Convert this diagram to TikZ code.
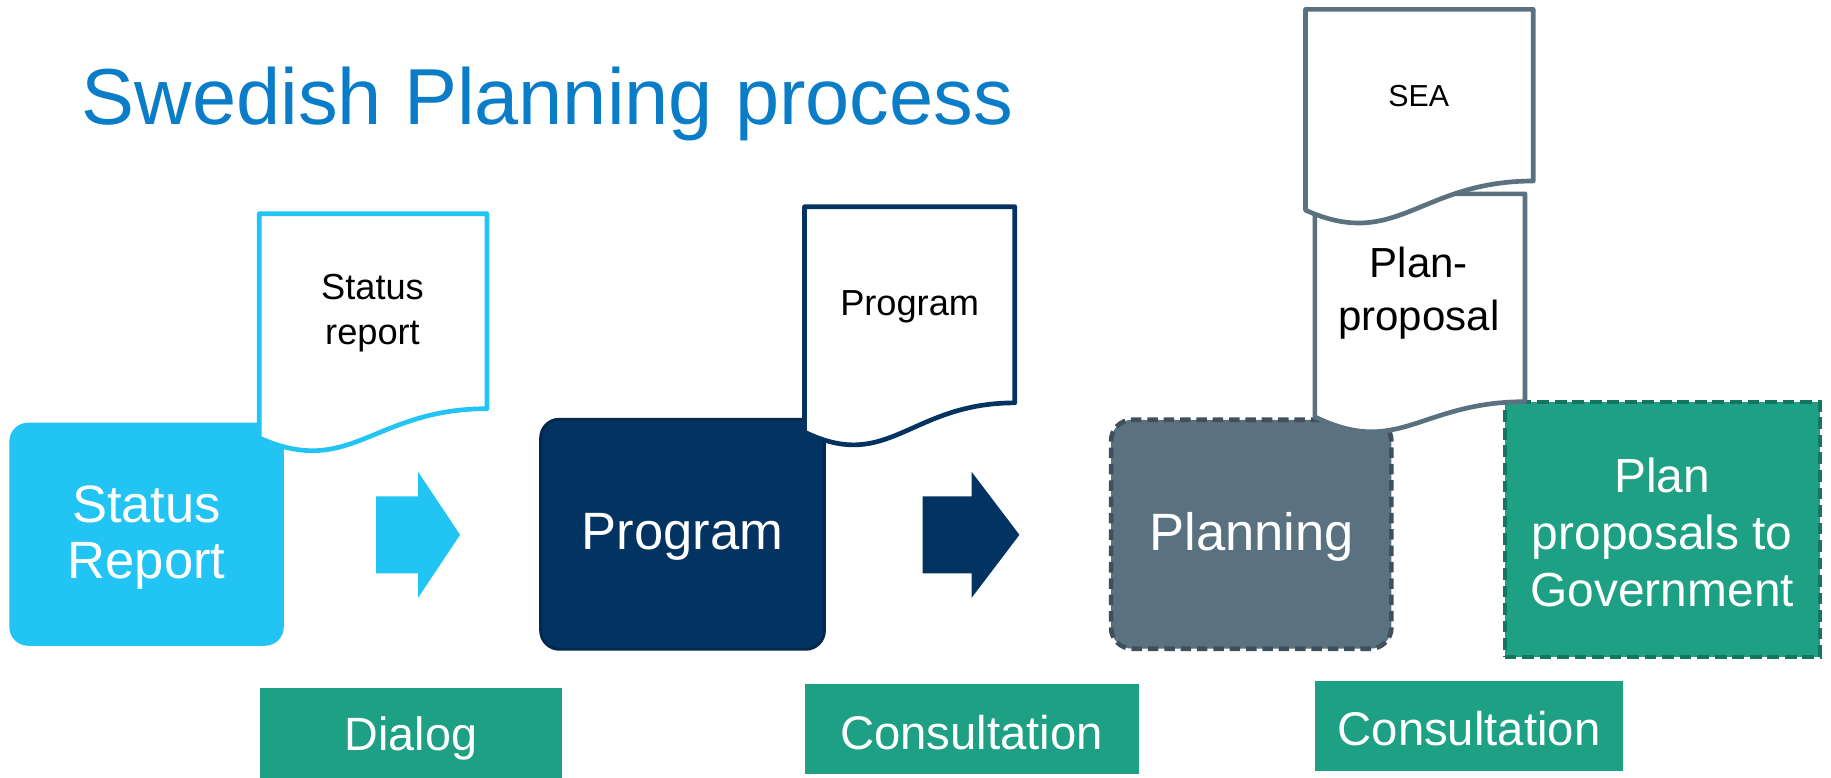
\documentclass[tikz,border=0pt]{standalone}
\usepackage{fontspec}
\setmainfont{Liberation Sans}
\definecolor{titleblue}{RGB}{11,125,200}
\definecolor{lightblue}{RGB}{33,196,243}
\definecolor{navy}{RGB}{3,51,96}
\definecolor{navyedge}{RGB}{2,40,76}
\definecolor{slate}{RGB}{90,113,128}
\definecolor{slateedge}{RGB}{63,80,92}
\definecolor{teal}{RGB}{29,160,132}
\definecolor{tealedge}{RGB}{20,118,96}
\newcommand\fsz[2]{\fontsize{#1}{#2}\selectfont}
\newcommand\docpath[6]{%
  \filldraw[#6] (#1,#2) -- (#3,#2) -- (#3,#4)
    .. controls ({#1+0.5*(#3-#1)},#4) and ({#1+0.4*(#3-#1)},{#5+35}) .. (#1,#5) -- cycle;}
\tikzset{
  stagebox/.style={inner sep=0pt},
  stagetext/.style={inner sep=0pt, align=center, text=white, font=\fsz{45}{48}},
  greenbox/.style={fill=teal, inner sep=0pt},
  greentext/.style={inner sep=0pt, align=center, text=white, font=\fsz{40.5}{44}},
  docline/.style={fill=white, line width=4pt, line join=round},
  doctext/.style={inner sep=0pt, align=center, text=black}
}
\begin{document}
\begin{tikzpicture}[x=1pt,y=-1pt]
\useasboundingbox (0,0) rectangle (1568,666);
% title
\node[anchor=base west, inner sep=0pt, text=titleblue, font=\fsz{68}{72}] (title) at (70,107) {Swedish Planning process};
% stage boxes
\node[stagebox, fill=lightblue, rounded corners=16pt, minimum width=235pt, minimum height=191pt] (status) at (125.5,457.5) {};
\node[stagetext] (statust) at (125.5,460) {Status\\Report};
\node[stagebox, fill=navy, draw=navyedge, line width=2.5pt, rounded corners=16pt, minimum width=243pt, minimum height=197pt] (program) at (584.5,457.5) {};
\node[stagetext] (programt) at (584.5,460) {Program};
\node[stagebox, fill=slate, draw=slateedge, line width=4pt, dash pattern=on 9pt off 5pt, rounded corners=18pt, minimum width=240pt, minimum height=196pt] (planning) at (1071.5,457.5) {};
\node[stagetext] (planningt) at (1072,460) {Planning};
\node[stagebox, fill=teal, draw=tealedge, line width=3.5pt, dash pattern=on 10pt off 5pt, minimum width=270pt, minimum height=218pt] (gov) at (1423.5,453.5) {};
\node[stagetext, font=\fsz{41}{48.5}] (govt) at (1423.5,456) {Plan\\proposals to\\Government};
% block arrows
\fill[lightblue] (322,425) -- (358,425) -- (358,404) -- (394,458) -- (358,512) -- (358,491) -- (322,491) -- cycle;
\fill[navy] (790,425) -- (832,425) -- (832,404) -- (873,458) -- (832,512) -- (832,491) -- (790,491) -- cycle;
% documents
\docpath{222}{183}{417}{350}{375}{docline, draw=lightblue}
\node[doctext, font=\fsz{31}{39}] (statusdoc) at (319,268) {Status\\report};
\docpath{689}{177}{869}{345}{370}{docline, draw=navy}
\node[doctext, font=\fsz{31}{39}] (programdoc) at (779,263) {Program};
\docpath{1126}{166}{1306}{344}{357}{docline, draw=slate}
\node[doctext, font=\fsz{36}{45}] (plandoc) at (1215,251) {Plan-\\proposal};
\docpath{1118}{8}{1313}{155}{180}{docline, draw=slate}
\node[doctext, font=\fsz{26}{30}] (seadoc) at (1215,82) {SEA};
% bottom labels
\node[greenbox, minimum width=258pt, minimum height=78pt] (dialog) at (352,628) {};
\node[greentext, font=\fsz{40}{44}] (dialogt) at (352,632) {Dialog};
\node[greenbox, minimum width=286pt, minimum height=77pt] (consult1) at (832,624.5) {};
\node[greentext] (consult1t) at (832,627) {Consultation};
\node[greenbox, minimum width=264pt, minimum height=77pt] (consult2) at (1258,621.5) {};
\node[greentext] (consult2t) at (1258,624) {Consultation};
\end{tikzpicture}
\end{document}
